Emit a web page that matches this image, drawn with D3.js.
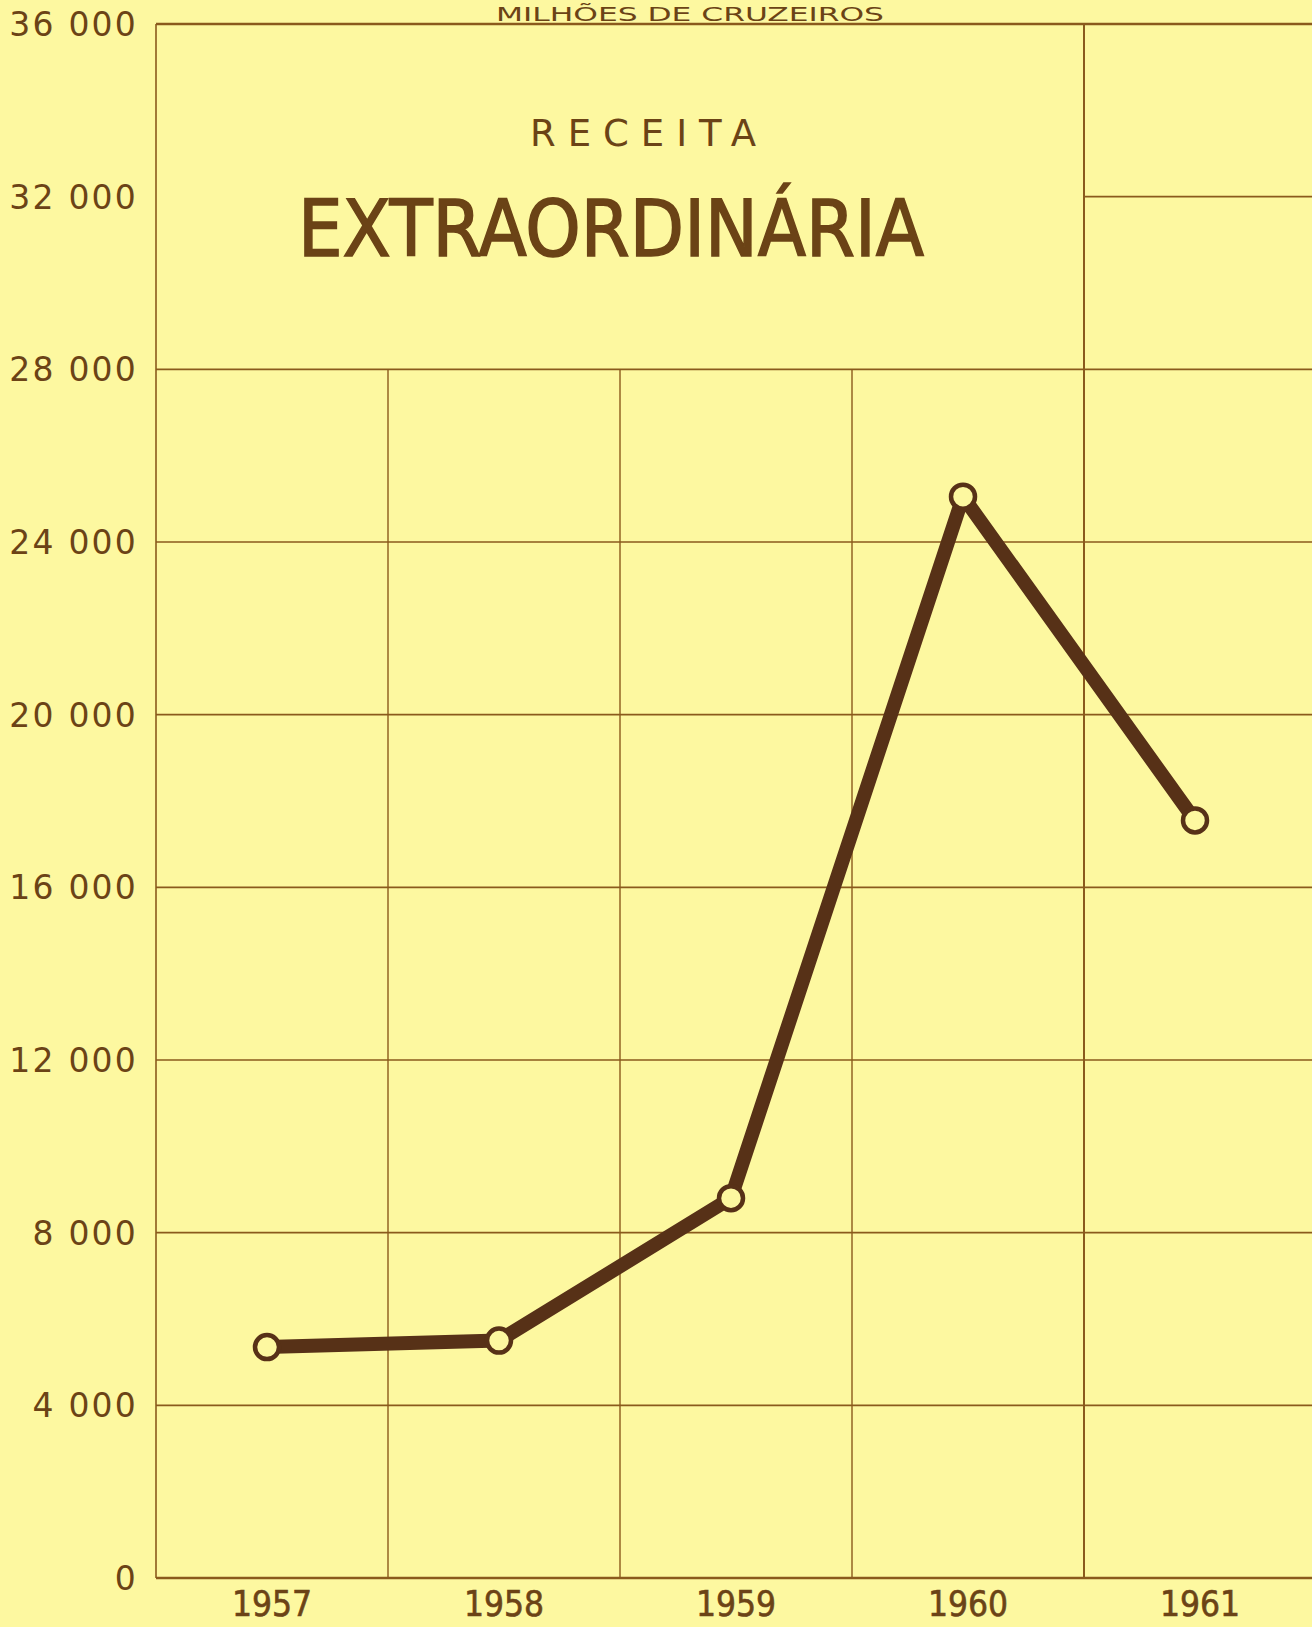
<!DOCTYPE html>
<html>
<head>
<meta charset="utf-8">
<script src="https://cdn.jsdelivr.net/npm/d3@7/dist/d3.min.js"></script>
<style>
  body { margin: 0; background: #fdf8a0; overflow: hidden; }
  svg { display: block; }
</style>
</head>
<body>
<div id="chart"></div>
<script>
// data
var years = ["1957", "1958", "1959", "1960", "1961"];
var receita = [5350, 5500, 8800, 25050, 17550];
var yTicks = [0, 4000, 8000, 12000, 16000, 20000, 24000, 28000, 32000, 36000];
var tickLabels = ["0", "4 000", "8 000", "12 000", "16 000", "20 000", "24 000", "28 000", "32 000", "36 000"];

var svgWidth = 1312;
var svgHeight = 1627;

var margin = { top: 24, left: 156, bottom: 49 };
var colWidth = 232;
var height = svgHeight - margin.top - margin.bottom;

var svg = d3.select("#chart")
  .append("svg")
  .attr("width", svgWidth)
  .attr("height", svgHeight);

svg.append("rect")
  .attr("width", svgWidth)
  .attr("height", svgHeight)
  .attr("fill", "#fdf8a0");

var x = d3.scaleBand()
  .domain(years)
  .range([margin.left, margin.left + colWidth * years.length])
  .padding(0);

var y = d3.scaleLinear()
  .domain([0, 36000])
  .range([margin.top + height, margin.top]);

var gridColor = "#8a5a1c";
var inkColor = "#6b4316";
var lineColor = "#573117";
var condensed = "'DejaVu Sans Condensed', 'Liberation Sans Narrow', 'DejaVu Sans', sans-serif";
var plain = "'DejaVu Sans', 'Liberation Sans', sans-serif";

var grid = svg.append("g");

// horizontal lines: full width from 28 000 down, the 32 000 line only in the last column
yTicks.forEach(function(t) {
  if (t === 0 || t > 32000) return;
  var xStart = t === 32000 ? x("1961") : margin.left;
  grid.append("line")
    .attr("x1", xStart).attr("x2", svgWidth)
    .attr("y1", y(t)).attr("y2", y(t))
    .attr("stroke", gridColor)
    .attr("stroke-width", 1.6);
});

// vertical lines between years
years.forEach(function(yr, i) {
  if (i === 0) return;
  var top = yr === "1961" ? y(36000) : y(28000);
  grid.append("line")
    .attr("x1", x(yr)).attr("x2", x(yr))
    .attr("y1", top).attr("y2", y(0))
    .attr("stroke", gridColor)
    .attr("stroke-width", yr === "1961" ? 2 : 1.4);
});

// frame: left axis, top and bottom lines
grid.append("line")
  .attr("x1", margin.left).attr("x2", margin.left)
  .attr("y1", y(36000)).attr("y2", y(0))
  .attr("stroke", gridColor).attr("stroke-width", 1.6);

grid.append("line")
  .attr("x1", margin.left).attr("x2", svgWidth)
  .attr("y1", y(36000)).attr("y2", y(36000))
  .attr("stroke", gridColor).attr("stroke-width", 2.4);

grid.append("line")
  .attr("x1", margin.left).attr("x2", svgWidth)
  .attr("y1", y(0)).attr("y2", y(0))
  .attr("stroke", gridColor).attr("stroke-width", 2.6);

// y tick labels
var leftAxis = d3.axisLeft(y)
  .tickValues(yTicks)
  .tickSize(0)
  .tickPadding(18)
  .tickFormat(function(d, i) { return tickLabels[i]; });

var yAxis = svg.append("g")
  .attr("transform", "translate(" + margin.left + ",0)")
  .call(leftAxis);
yAxis.select(".domain").remove();
yAxis.selectAll("text")
  .attr("fill", inkColor)
  .attr("font-family", plain)
  .attr("font-size", 33)
  .attr("letter-spacing", 2.2)
  .attr("dy", "0.35em");

// x labels
var bottomAxis = d3.axisBottom(x)
  .tickSize(0)
  .tickPadding(0);

var xAxis = svg.append("g")
  .attr("transform", "translate(0," + (y(0) + 12) + ")")
  .call(bottomAxis);
xAxis.select(".domain").remove();
xAxis.selectAll("text")
  .attr("fill", inkColor)
  .attr("font-family", condensed)
  .attr("font-size", 35)
  .attr("stroke", inkColor)
  .attr("stroke-width", 0.6)
  .attr("dy", "0.75em");

// titles
svg.append("text")
  .attr("x", 690).attr("y", 21)
  .attr("text-anchor", "middle")
  .attr("fill", inkColor)
  .attr("font-family", condensed)
  .attr("font-size", 20)
  .attr("textLength", 388)
  .attr("lengthAdjust", "spacingAndGlyphs")
  .text("MILHÕES DE CRUZEIROS");

svg.append("text")
  .attr("x", 643).attr("y", 146)
  .attr("text-anchor", "middle")
  .attr("fill", inkColor)
  .attr("font-family", plain)
  .attr("font-size", 37)
  .attr("textLength", 226)
  .attr("lengthAdjust", "spacing")
  .text("RECEITA");

svg.append("text")
  .attr("x", 611).attr("y", 256)
  .attr("text-anchor", "middle")
  .attr("fill", inkColor)
  .attr("stroke", inkColor)
  .attr("stroke-width", 1.5)
  .attr("font-family", condensed)
  .attr("font-size", 79)
  .attr("textLength", 626)
  .attr("lengthAdjust", "spacingAndGlyphs")
  .text("EXTRAORDINÁRIA");

// the series
var points = years.map(function(yr, i) { return { year: yr, value: receita[i] }; });

var line = d3.line()
  .x(function(d) { return x(d.year) + x.bandwidth() / 2 - 5; })
  .y(function(d) { return y(d.value); });

svg.append("path")
  .datum(points)
  .attr("d", line)
  .attr("fill", "none")
  .attr("stroke", lineColor)
  .attr("stroke-width", 14)
  .attr("stroke-linejoin", "round");

svg.selectAll("circle.pt")
  .data(points)
  .enter()
  .append("circle")
  .attr("class", "pt")
  .attr("cx", function(d) { return x(d.year) + x.bandwidth() / 2 - 5; })
  .attr("cy", function(d) { return y(d.value); })
  .attr("r", 12)
  .attr("fill", "#fdf8a0")
  .attr("stroke", lineColor)
  .attr("stroke-width", 4.5);
</script>
</body>
</html>
